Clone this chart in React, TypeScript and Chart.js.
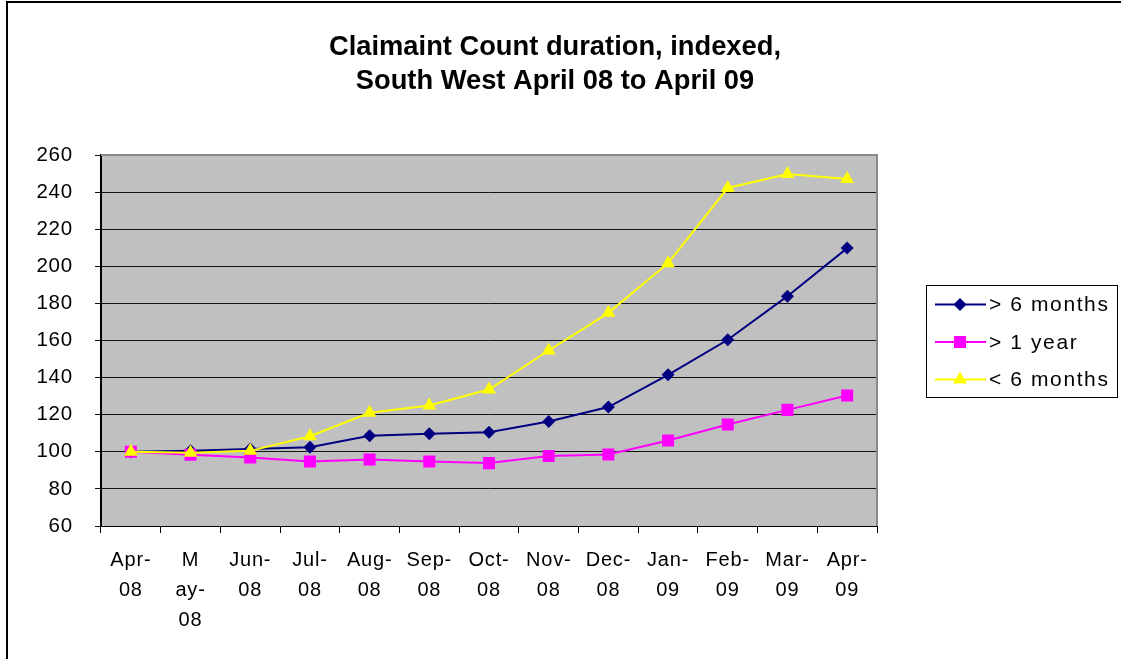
import React, { useEffect, useRef } from 'react';
import { Chart, registerables } from 'chart.js';

Chart.register(...registerables);

// ---- data ----
const categories: string[][] = [
  ['Apr-', '08'], ['M', 'ay-', '08'], ['Jun-', '08'], ['Jul-', '08'], ['Aug-', '08'],
  ['Sep-', '08'], ['Oct-', '08'], ['Nov-', '08'], ['Dec-', '08'], ['Jan-', '09'],
  ['Feb-', '09'], ['Mar-', '09'], ['Apr-', '09'],
];
const over6Months = [100, 100.5, 101.5, 102.5, 108.6, 109.7, 110.6, 116.3, 124.1, 141.5, 160.4, 183.9, 209.8];
const over1Year = [100, 98.4, 96.9, 94.8, 95.9, 94.8, 93.9, 97.7, 98.5, 106.1, 114.7, 122.6, 130.4];
const under6Months = [100, 99.5, 100.5, 108.4, 121, 125, 133.6, 154.6, 174.9, 201.7, 242.2, 249.7, 247];
const seriesNames = ['> 6 months', '> 1 year', '< 6 months'];
const titleLines = ['Claimaint Count duration, indexed,', 'South West April 08 to April 09'];
const yMin = 60;
const yMax = 260;
const yStep = 20;

const FONT = '"Liberation Sans", Arial, Helvetica, sans-serif';
const TEXT_SPACING = '0.8px';

function drawMarker(ctx: CanvasRenderingContext2D, style: string, x: number, y: number, r: number, color: string) {
  ctx.save();
  ctx.fillStyle = color;
  ctx.beginPath();
  if (style === 'rectRot') {
    ctx.moveTo(x - r, y);
    ctx.lineTo(x, y - r);
    ctx.lineTo(x + r, y);
    ctx.lineTo(x, y + r);
  } else if (style === 'rect') {
    const s = r * Math.SQRT1_2;
    ctx.rect(x - s, y - s, 2 * s, 2 * s);
  } else {
    ctx.moveTo(x, y - r);
    ctx.lineTo(x + 0.866 * r, y + 0.5 * r);
    ctx.lineTo(x - 0.866 * r, y + 0.5 * r);
  }
  ctx.closePath();
  ctx.fill();
  ctx.restore();
}

const decorPlugin = {
  id: 'decor',
  beforeLayout(chart: any) {
    (chart.ctx as any).letterSpacing = TEXT_SPACING;
  },
  beforeDraw(chart: any) {
    const ctx = chart.ctx as CanvasRenderingContext2D;
    (ctx as any).letterSpacing = TEXT_SPACING;
    const { left, top, right, bottom } = chart.chartArea;
    ctx.save();
    ctx.fillStyle = '#c0c0c0';
    ctx.fillRect(left, top, right - left, bottom - top);
    ctx.restore();
  },
  beforeDatasetsDraw(chart: any) {
    const ctx = chart.ctx as CanvasRenderingContext2D;
    const { left, top, right, bottom } = chart.chartArea;
    ctx.save();
    ctx.strokeStyle = '#8a8a8a';
    ctx.lineWidth = 2;
    ctx.beginPath();
    ctx.moveTo(left, top);
    ctx.lineTo(right, top);
    ctx.lineTo(right, bottom);
    ctx.stroke();
    ctx.restore();
  },
  afterDraw(chart: any) {
    const ctx = chart.ctx as CanvasRenderingContext2D;
    ctx.save();
    // title
    (ctx as any).letterSpacing = '0px';
    ctx.fillStyle = '#000';
    ctx.font = `bold 27.3px ${FONT}`;
    ctx.textAlign = 'center';
    ctx.textBaseline = 'middle';
    titleLines.forEach((line, i) => ctx.fillText(line, 555, 47 + i * 34));

    // legend
    ctx.strokeStyle = '#000';
    ctx.lineWidth = 1;
    ctx.strokeRect(926.5, 285.5, 191, 112);
    ctx.font = `21px ${FONT}`;
    (ctx as any).letterSpacing = '1.6px';
    ctx.textAlign = 'left';
    chart.data.datasets.forEach((ds: any, i: number) => {
      const y = 304.5 + i * 37.5;
      ctx.strokeStyle = ds.borderColor;
      ctx.lineWidth = 2;
      ctx.beginPath();
      ctx.moveTo(935, y);
      ctx.lineTo(986, y);
      ctx.stroke();
      drawMarker(ctx, ds.pointStyle, 960, y, ds.pointRadius, ds.backgroundColor);
      ctx.fillStyle = '#000';
      ctx.fillText(ds.label, 989, y + 1);
    });
    ctx.restore();
  },
};

export default function App() {
  const canvasRef = useRef<HTMLCanvasElement | null>(null);

  useEffect(() => {
    const canvas = canvasRef.current;
    if (!canvas) return;
    const chart = new Chart(canvas, {
      type: 'line',
      data: {
        labels: categories,
        datasets: [
          {
            label: seriesNames[0],
            data: over6Months,
            borderColor: '#000080',
            backgroundColor: '#000080',
            borderWidth: 2,
            pointStyle: 'rectRot',
            pointRadius: 6.5,
            pointBorderWidth: 0,
            order: 3,
          },
          {
            label: seriesNames[1],
            data: over1Year,
            borderColor: '#ff00ff',
            backgroundColor: '#ff00ff',
            borderWidth: 2,
            pointStyle: 'rect',
            pointRadius: 8.5,
            pointBorderWidth: 0,
            order: 2,
          },
          {
            label: seriesNames[2],
            data: under6Months,
            borderColor: '#ffff00',
            backgroundColor: '#ffff00',
            borderWidth: 2,
            pointStyle: 'triangle',
            pointRadius: 8,
            pointBorderWidth: 0,
            order: 1,
          },
        ],
      },
      options: {
        responsive: false,
        animation: false,
        events: [],
        layout: { padding: { left: 0, right: 244, top: 155, bottom: 0 } },
        plugins: {
          legend: { display: false },
          title: { display: false },
          tooltip: { enabled: false },
        },
        scales: {
          x: {
            type: 'category',
            offset: true,
            afterFit: (scale: any) => { scale.height = 133; },
            grid: {
              offset: true,
              drawOnChartArea: false,
              drawTicks: true,
              tickLength: 7,
              color: '#000',
              lineWidth: 1,
            },
            border: { display: true, color: '#000', width: 1 },
            ticks: {
              autoSkip: false,
              maxRotation: 0,
              minRotation: 0,
              padding: 12,
              color: '#000',
              font: { family: FONT, size: 20, lineHeight: 1.5 },
            },
          },
          y: {
            min: yMin,
            max: yMax,
            afterFit: (scale: any) => { scale.width = 101; },
            grid: {
              drawTicks: true,
              tickLength: 6,
              color: '#111',
              lineWidth: 1,
            },
            border: { display: true, color: '#000', width: 2 },
            ticks: {
              stepSize: yStep,
              padding: 22,
              color: '#000',
              font: { family: FONT, size: 20.5 },
            },
          },
        },
      },
      plugins: [decorPlugin],
    } as any);
    return () => chart.destroy();
  }, []);

  return (
    <div style={{ position: 'absolute', left: 0, top: 0, width: 1121, height: 659, background: '#fff', overflow: 'hidden' }}>
      <div
        style={{
          position: 'absolute',
          left: 6,
          top: 1,
          width: 1121,
          height: 700,
          borderLeft: '2px solid #000',
          borderTop: '2px solid #000',
        }}
      />
      <canvas ref={canvasRef} width={1121} height={659} style={{ position: 'absolute', left: 0, top: 0, width: 1121, height: 659 }} />
    </div>
  );
}
